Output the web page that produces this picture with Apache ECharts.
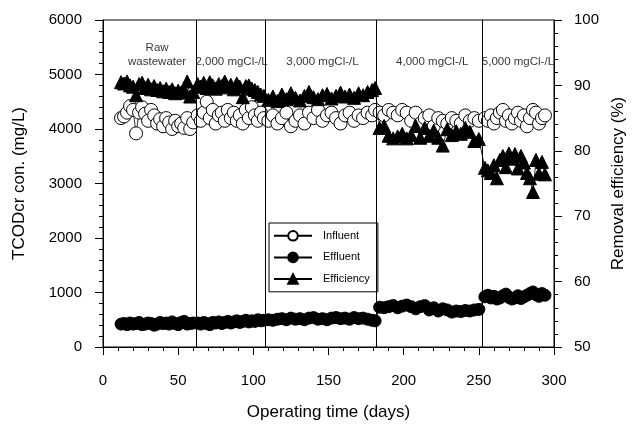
<!DOCTYPE html>
<html>
<head>
<meta charset="utf-8">
<script src="https://cdn.jsdelivr.net/npm/echarts@6/dist/echarts.min.js"></script>
<style>html,body{margin:0;padding:0;background:#fff}#c{width:640px;height:430px}</style>
</head>
<body>
<div id="c"></div>
<script>
// Operating days
const days = [
  12,14,16,18,20,22,24,26,28,30,32,34,36,38,40,42,44,46,48,50,52,54,56,58,60,
  63,65,67,69,71,73,75,77,79,81,83,85,87,89,91,93,95,97,99,101,103,105,107,
  110,113,116,119,122,125,128,131,134,137,140,143,146,149,152,155,158,161,164,167,170,173,176,179,181,
  184,187,190,193,196,199,202,205,208,211,214,217,220,223,226,229,232,235,238,241,244,247,250,
  254,256,258,260,262,264,266,268,270,272,274,276,278,280,282,284,286,288,290,292,294
];
// Influent TCODcr (mg/L)
const influent = [
  4200,4230,4300,4420,4350,3920,4300,4400,4280,4150,4350,4250,4100,4180,4050,4200,4120,4000,4150,4050,4100,4020,4200,4000,4120,
  4250,4150,4300,4500,4200,4350,4100,4250,4300,4150,4350,4200,4300,4150,4250,4100,4350,4200,4400,4250,4150,4300,4200,
  4150,4250,4100,4200,4300,4050,4150,4250,4100,4300,4200,4350,4150,4250,4300,4200,4100,4250,4300,4150,4250,4200,4300,4250,4350,
  4300,4250,4350,4300,4250,4350,4300,4150,4300,4100,4200,4250,4050,4200,4150,4100,4200,4150,4100,4250,4150,4200,4150,
  4200,4150,4250,4100,4200,4300,4350,4150,4250,4100,4200,4300,4150,4250,4050,4200,4350,4300,4100,4200,4250
];
// Effluent TCODcr (mg/L)
const effluent = [
  420,430,410,440,420,430,450,410,420,440,430,400,420,450,430,440,420,460,430,410,450,470,420,430,440,
  440,420,450,430,410,450,440,460,430,450,470,440,460,480,450,470,490,460,480,470,500,480,490,
  500,490,510,520,500,530,510,520,500,530,540,510,520,500,530,540,520,530,510,540,520,530,510,490,480,
  730,720,740,760,720,750,770,740,700,740,760,680,720,660,700,680,640,660,650,670,660,680,690,
  920,950,900,930,880,900,940,970,910,880,900,940,890,920,950,980,1010,960,930,980,950
];
// Removal efficiency (%)
const efficiency = [
  90.5,90.3,90.6,90.0,89.8,88.5,90.2,90.4,89.6,90.1,89.4,89.9,89.3,89.6,89.1,89.5,89.0,89.4,88.8,89.2,88.9,89.3,90.6,88.3,89.0,
  90.2,89.8,90.4,89.6,90.5,90.0,89.5,90.2,89.9,90.6,89.7,90.1,89.4,90.3,89.8,88.2,89.9,90.0,89.5,89.3,89.0,88.6,88.4,
  87.8,88.3,87.6,88.6,87.9,88.8,88.1,87.7,88.4,89.0,88.2,87.9,88.5,88.7,88.0,88.4,88.9,88.3,88.6,88.1,88.8,88.5,89.0,89.3,89.6,
  83.5,83.8,82.3,81.9,82.2,82.6,81.9,82.4,83.8,82.0,83.5,82.3,83.1,82.0,80.8,83.3,82.4,83.0,82.6,83.5,82.9,81.5,81.8,
  77.4,77.0,76.6,77.8,75.8,78.6,79.2,77.5,79.6,78.8,79.5,77.3,79.2,78.2,76.6,75.8,73.7,78.6,76.5,78.3,76.4
];
// Phase boundaries (days) and phase labels
const phaseBoundaries = [62, 108, 182, 252];
const phaseLabels = ['Raw\nwastewater', '2,000 mgCl-/L', '3,000 mgCl-/L', '4,000 mgCl-/L', '5,000 mgCl-/L'];
const phaseLabelDay = [36, 85.5, 146, 219, 276];
const phaseLabelLevel = [5360, 5230, 5230, 5230, 5230];

const FONT = 'Liberation Sans, Arial, sans-serif';
const chart = echarts.init(document.getElementById('c'), null, {renderer: 'canvas'});

const axisCommon = {
  axisLine: {show: true, lineStyle: {color: '#000', width: 1}},
  axisTick: {show: true, inside: false, length: 8, lineStyle: {color: '#000'}},
  minorTick: {show: true, splitNumber: 5, length: 4, lineStyle: {color: '#000'}},
  splitLine: {show: false},
  axisLabel: {color: '#000', fontSize: 15, fontFamily: FONT, margin: 21, formatter: v => String(v)},
  nameTextStyle: {color: '#000', fontSize: 17, fontFamily: FONT},
  nameLocation: 'middle'
};

chart.setOption({
  animation: false,
  backgroundColor: '#fff',
  grid: {left: 103, right: 86, top: 20, bottom: 83, show: true, borderColor: '#000', borderWidth: 1, backgroundColor: 'transparent'},
  legend: {
    orient: 'vertical', left: 269, top: 223,
    data: ['Influent', 'Effluent', 'Efficiency'],
    itemWidth: 38, itemHeight: 12, itemGap: 10,
    borderColor: '#000', borderWidth: 1, padding: [7, 8, 7, 4],
    textStyle: {color: '#000', fontSize: 11, fontFamily: FONT, padding: [0, 0, 0, 6]}
  },
  xAxis: Object.assign({}, axisCommon, {
    type: 'value', min: 0, max: 300, interval: 50,
    name: 'Operating time (days)', nameGap: 57,
    axisLabel: Object.assign({}, axisCommon.axisLabel, {margin: 26})
  }),
  yAxis: [
    Object.assign({}, axisCommon, {
      type: 'value', min: 0, max: 6000, interval: 1000, position: 'left',
      name: 'TCODcr con. (mg/L)', nameGap: 75, nameRotate: 90
    }),
    Object.assign({}, axisCommon, {
      type: 'value', min: 50, max: 100, interval: 10, position: 'right',
      name: 'Removal efficiency (%)', nameGap: 54, nameRotate: 90,
      axisLabel: Object.assign({}, axisCommon.axisLabel, {margin: 20})
    })
  ],
  series: [
    {
      name: 'Influent', type: 'line', yAxisIndex: 0,
      data: days.map((d, i) => [d, influent[i]]),
      symbol: 'circle', symbolSize: 13,
      itemStyle: {color: '#fff', borderColor: '#000', borderWidth: 1},
      lineStyle: {color: '#000', width: 0.8},
      markLine: {
        silent: true, symbol: ['none', 'none'], label: {show: false},
        lineStyle: {color: '#000', width: 1, type: 'solid'},
        data: phaseBoundaries.map(v => ({xAxis: v}))
      }
    },
    {
      name: 'Effluent', type: 'line', yAxisIndex: 0,
      data: days.map((d, i) => [d, effluent[i]]),
      symbol: 'circle', symbolSize: 12,
      itemStyle: {color: '#000', borderColor: '#000', borderWidth: 1},
      lineStyle: {color: '#000', width: 0.8}
    },
    {
      name: 'Efficiency', type: 'line', yAxisIndex: 1,
      data: days.map((d, i) => [d, efficiency[i]]),
      symbol: 'triangle', symbolSize: 13,
      itemStyle: {color: '#000', borderColor: '#000', borderWidth: 1},
      lineStyle: {color: '#000', width: 0.8}
    },
    {
      name: 'phases', type: 'scatter', yAxisIndex: 0, silent: true,
      symbolSize: 1, itemStyle: {color: 'rgba(0,0,0,0)'},
      data: phaseLabelDay.map((d, i) => ({value: [d, phaseLabelLevel[i]], name: phaseLabels[i]})),
      label: {show: true, position: 'inside', formatter: p => p.name, color: '#000', fontSize: 11.5, fontFamily: FONT, lineHeight: 14}
    }
  ]
});
</script>
</body>
</html>
